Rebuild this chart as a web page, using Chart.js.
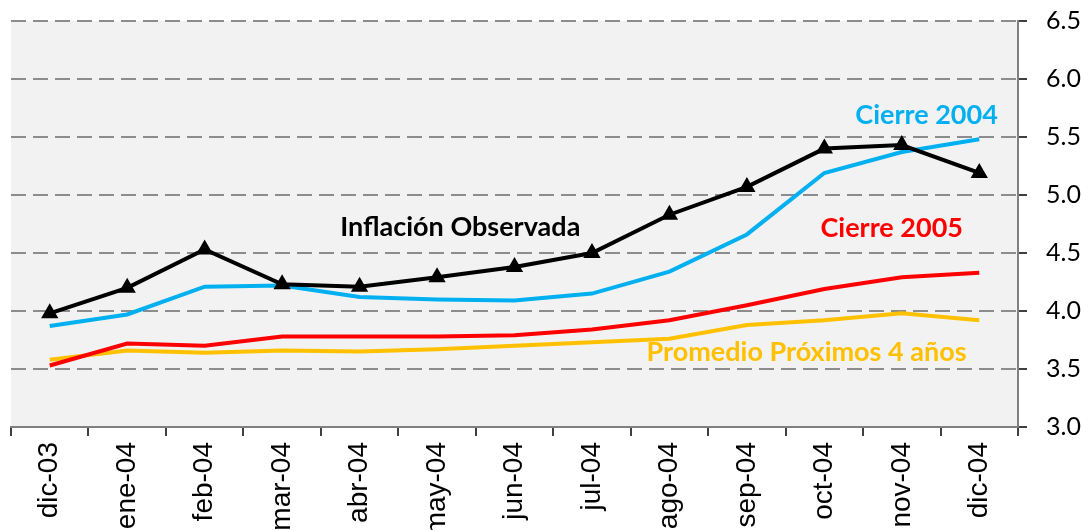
<!DOCTYPE html>
<html>
<head>
<meta charset="utf-8">
<script src="https://cdn.jsdelivr.net/npm/chart.js@4.4.0/dist/chart.umd.min.js"></script>
<style>
  html, body { margin: 0; padding: 0; background: #fff; }
  #wrap { width: 1090px; height: 530px; }
</style>
</head>
<body>
<div id="wrap"><canvas id="chart"></canvas></div>
<script>
    // Datos
    const meses = ['dic-03', 'ene-04', 'feb-04', 'mar-04', 'abr-04', 'may-04', 'jun-04',
                   'jul-04', 'ago-04', 'sep-04', 'oct-04', 'nov-04', 'dic-04'];
    const inflacionObservada = [3.98, 4.20, 4.53, 4.23, 4.21, 4.29, 4.38, 4.50, 4.83, 5.07, 5.40, 5.43, 5.19];
    const cierre2004 = [3.87, 3.97, 4.21, 4.22, 4.12, 4.10, 4.09, 4.15, 4.34, 4.66, 5.19, 5.37, 5.48];
    const cierre2005 = [3.53, 3.72, 3.70, 3.78, 3.78, 3.78, 3.79, 3.84, 3.92, 4.05, 4.19, 4.29, 4.33];
    const promedio4 = [3.58, 3.66, 3.64, 3.66, 3.65, 3.67, 3.70, 3.73, 3.76, 3.88, 3.92, 3.98, 3.92];

    const AZUL = '#00B0F0';
    const ROJO = '#FF0000';
    const AMARILLO = '#FFC000';

    // fondo gris del área de trazado
    const fondoGris = {
        id: 'fondoGris',
        beforeDraw(chart) {
            const { ctx, chartArea: a } = chart;
            ctx.save();
            ctx.fillStyle = '#F2F2F2';
            ctx.fillRect(a.left, a.top, a.right - a.left, a.bottom - a.top);
            ctx.restore();
        }
    };

    // etiquetas de las series dentro del gráfico
    const etiquetas = {
        id: 'etiquetas',
        afterDatasetsDraw(chart) {
            const { ctx, scales: { x, y } } = chart;
            const items = [
                { texto: 'Inflación Observada', i: 5.3, v: 4.72, color: '#000000' },
                { texto: 'Cierre 2004', i: 11.32, v: 5.69, color: AZUL },
                { texto: 'Cierre 2005', i: 10.87, v: 4.71, color: ROJO },
                { texto: 'Promedio Próximos 4 años', i: 9.77, v: 3.64, color: AMARILLO },
            ];
            ctx.save();
            ctx.font = 'bold 27px Lato';
            ctx.textAlign = 'center';
            ctx.textBaseline = 'middle';
            items.forEach(it => {
                ctx.fillStyle = it.color;
                ctx.fillText(it.texto, x.getPixelForValue(it.i), y.getPixelForValue(it.v));
            });
            ctx.restore();
        }
    };

    const ctx = document.getElementById('chart').getContext('2d');
    new Chart(ctx, {
        type: 'line',
        data: {
            labels: meses,
            datasets: [
                {
                    label: 'Inflación Observada',
                    data: inflacionObservada,
                    borderColor: '#000000',
                    backgroundColor: '#000000',
                    borderWidth: 4,
                    pointStyle: 'triangle',
                    pointRadius: 6,
                    tension: 0,
                },
                {
                    label: 'Cierre 2004',
                    data: cierre2004,
                    borderColor: AZUL,
                    borderWidth: 4,
                    pointRadius: 0,
                    tension: 0,
                },
                {
                    label: 'Cierre 2005',
                    data: cierre2005,
                    borderColor: ROJO,
                    borderWidth: 4,
                    pointRadius: 0,
                    tension: 0,
                },
                {
                    label: 'Promedio Próximos 4 años',
                    data: promedio4,
                    borderColor: AMARILLO,
                    borderWidth: 4,
                    pointRadius: 0,
                    tension: 0,
                },
            ]
        },
        options: {
            responsive: true,
            maintainAspectRatio: false,
            animation: false,
            layout: { padding: { left: 11, top: 21, right: 0, bottom: 0 } },
            plugins: {
                legend: { display: false },
                tooltip: { enabled: false },
            },
            scales: {
                x: {
                    offset: true,
                    grid: {
                        offset: true,
                        drawOnChartArea: false,
                        drawTicks: true,
                        tickLength: 9,
                        color: '#404040',
                        lineWidth: 2,
                    },
                    border: { display: true, color: '#808080', width: 2 },
                    ticks: {
                        minRotation: 90,
                        maxRotation: 90,
                        padding: 6,
                        color: '#000000',
                        font: { family: 'Liberation Sans', size: 28 },
                    },
                    afterFit(scale) { scale.height = 103; },
                },
                y: {
                    position: 'right',
                    min: 3.0,
                    max: 6.5,
                    grid: {
                        color: (c) => c.tick && c.tick.value === 3 ? 'rgba(0,0,0,0)' : '#8C8C8C',
                        lineWidth: 2,
                        drawTicks: true,
                        tickLength: 9,
                        tickColor: '#404040',
                    },
                    border: { display: true, color: '#808080', width: 2, dash: [15, 7] },
                    ticks: {
                        stepSize: 0.5,
                        padding: 19,
                        color: '#000000',
                        font: { family: 'Lato', size: 25 },
                        callback: (v) => Number(v).toFixed(1),
                    },
                    afterFit(scale) {
                        scale.width = 72;
                        scale.paddingTop = 0;
                        scale.paddingBottom = 0;
                    },
                },
            },
        },
        plugins: [fondoGris, etiquetas],
    });
</script>
</body>
</html>
